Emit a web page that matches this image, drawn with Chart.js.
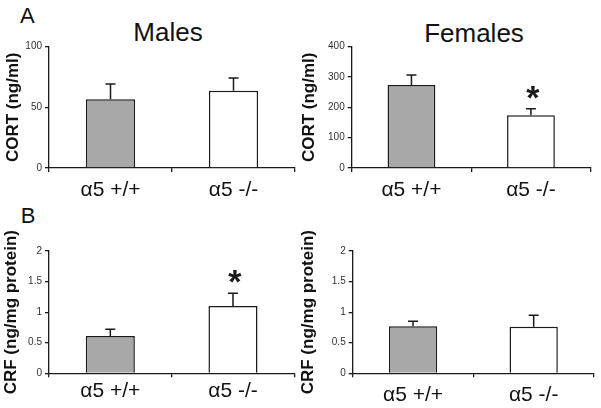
<!DOCTYPE html>
<html>
<head>
<meta charset="utf-8">
<script src="https://cdn.jsdelivr.net/npm/chart.js@4/dist/chart.umd.min.js"></script>
<style>
  html, body { margin: 0; padding: 0; background: #fff; }
  body { width: 601px; height: 408px; position: relative; overflow: hidden;
         font-family: 'Liberation Sans', Arial, sans-serif; }
  .box { position: absolute; }
  .lbl { position: absolute; color: #111; white-space: nowrap; font-family: 'Liberation Sans', Arial, sans-serif; }
</style>
</head>
<body>
<div class="lbl" style="left:20px;top:4.7px;font-size:22px;line-height:22px;">A</div>
<div class="lbl" style="left:20.7px;top:204.7px;font-size:22px;line-height:22px;">B</div>
<div class="lbl" style="left:168px;top:19px;font-size:26px;line-height:26px;transform:translateX(-50%);">Males</div>
<div class="lbl" style="left:474px;top:20px;font-size:26px;line-height:26px;transform:translateX(-50%);">Females</div>

<div class="box" style="left:0px;top:0px;width:300px;height:200px;"><canvas id="c1" width="300" height="200"></canvas></div>
<div class="box" style="left:300px;top:0px;width:301px;height:200px;"><canvas id="c2" width="301" height="200"></canvas></div>
<div class="box" style="left:0px;top:200px;width:300px;height:208px;"><canvas id="c3" width="300" height="208"></canvas></div>
<div class="box" style="left:300px;top:200px;width:301px;height:208px;"><canvas id="c4" width="301" height="208"></canvas></div>

<script>
// ---------- data ----------
const categories = ['α5 +/+', 'α5 -/-'];

const maleCort = [56.6, 63.7];
const maleCortErr = [12.6, 10.5];
const maleCortSig = [false, false];
const maleCortTicks = { max: 100, step: 50 };

const femaleCort = [274, 174];
const femaleCortErr = [33, 21];
const femaleCortSig = [false, true];
const femaleCortTicks = { max: 400, step: 100 };

const maleCrf = [0.61, 1.10];
const maleCrfErr = [0.11, 0.21];
const maleCrfSig = [false, true];
const crfTicks = { max: 2, step: 0.5 };

const femaleCrf = [0.77, 0.76];
const femaleCrfErr = [0.08, 0.19];
const femaleCrfSig = [false, false];

const yTitleCort = 'CORT (ng/ml)';
const yTitleCrf = 'CRF (ng/mg protein)';

// ---------- styling ----------
const FONT = "'Liberation Sans', Arial, sans-serif";
const INK = '#1a1a1a';
const barFill = ['#a8a8a8', '#ffffff'];

const errorBarPlugin = {
  id: 'errorBars',
  afterDatasetsDraw(chart, args, opts) {
    const ctx = chart.ctx;
    const meta = chart.getDatasetMeta(0);
    const ys = chart.scales.y;
    const ds = chart.data.datasets[0];
    ctx.save();
    ctx.strokeStyle = INK;
    ctx.lineWidth = 1.5;
    meta.data.forEach((bar, i) => {
      const v = ds.data[i];
      const top = ys.getPixelForValue(v + opts.err[i]);
      ctx.beginPath();
      ctx.moveTo(bar.x, bar.y);
      ctx.lineTo(bar.x, top);
      ctx.moveTo(bar.x - 5, top);
      ctx.lineTo(bar.x + 5, top);
      ctx.stroke();
      if (opts.sig[i]) {
        ctx.fillStyle = INK;
        ctx.font = 'bold 34px ' + FONT;
        ctx.textAlign = 'center';
        ctx.textBaseline = 'alphabetic';
        ctx.fillText('*', bar.x + 2, top - opts.starGap);
      }
    });
    ctx.restore();
  }
};

function makeChart(id, cfg) {
  return new Chart(document.getElementById(id), {
    type: 'bar',
    data: {
      labels: categories,
      datasets: [{
        data: cfg.values,
        backgroundColor: barFill,
        borderColor: INK,
        borderWidth: 1.5,
        barPercentage: 0.4,
        categoryPercentage: 1.0
      }]
    },
    options: {
      responsive: false,
      maintainAspectRatio: false,
      animation: false,
      events: [],
      layout: { padding: { left: 0, top: cfg.top, right: cfg.right, bottom: 0 } },
      plugins: {
        legend: { display: false },
        tooltip: { enabled: false },
        errorBars: { err: cfg.err, sig: cfg.sig, starGap: cfg.starGap }
      },
      scales: {
        x: {
          afterFit(s) { s.height = cfg.xh; },
          grid: { display: true, drawOnChartArea: false, drawTicks: true, tickLength: 4, color: INK, lineWidth: 1.3, offset: true },
          border: { display: true, color: INK, width: 1.3 },
          ticks: { color: '#111', font: { family: FONT, size: 21 }, padding: cfg.xpad, maxRotation: 0 }
        },
        y: {
          min: 0, max: cfg.ticks.max,
          afterFit(s) { s.width = cfg.yw; },
          grid: { display: true, drawOnChartArea: false, drawTicks: true, tickLength: 4, color: INK, lineWidth: 1.3 },
          border: { display: true, color: INK, width: 1.3 },
          ticks: { stepSize: cfg.ticks.step, color: '#333', font: { family: FONT, size: 10 }, padding: 3,
                   callback: (v) => String(Math.round(v * 100) / 100) },
          title: { display: true, text: cfg.title, color: '#111',
                   font: { family: FONT, size: 17, weight: 'bold', lineHeight: 1 },
                   padding: { top: cfg.tpad, bottom: 0 } }
        }
      }
    },
    plugins: [errorBarPlugin]
  });
}

makeChart('c1', { values: maleCort, err: maleCortErr, sig: maleCortSig, ticks: maleCortTicks,
  title: yTitleCort, top: 46.7, right: 5, yw: 49, xh: 32, xpad: 6, tpad: 4.5, starGap: 2 });
makeChart('c2', { values: femaleCort, err: femaleCortErr, sig: femaleCortSig, ticks: femaleCortTicks,
  title: yTitleCort, top: 46.7, right: 10.3, yw: 51.7, xh: 32, xpad: 6, tpad: 1, starGap: 0 });
makeChart('c3', { values: maleCrf, err: maleCrfErr, sig: maleCrfSig, ticks: crfTicks,
  title: yTitleCrf, top: 51, right: 5.7, yw: 49, xh: 34.7, xpad: 1, tpad: 2.5, starGap: 0 });
makeChart('c4', { values: femaleCrf, err: femaleCrfErr, sig: femaleCrfSig, ticks: crfTicks,
  title: yTitleCrf, top: 51, right: 7, yw: 52.7, xh: 34.7, xpad: 5.5, tpad: 0, starGap: 0 });
</script>
</body>
</html>
